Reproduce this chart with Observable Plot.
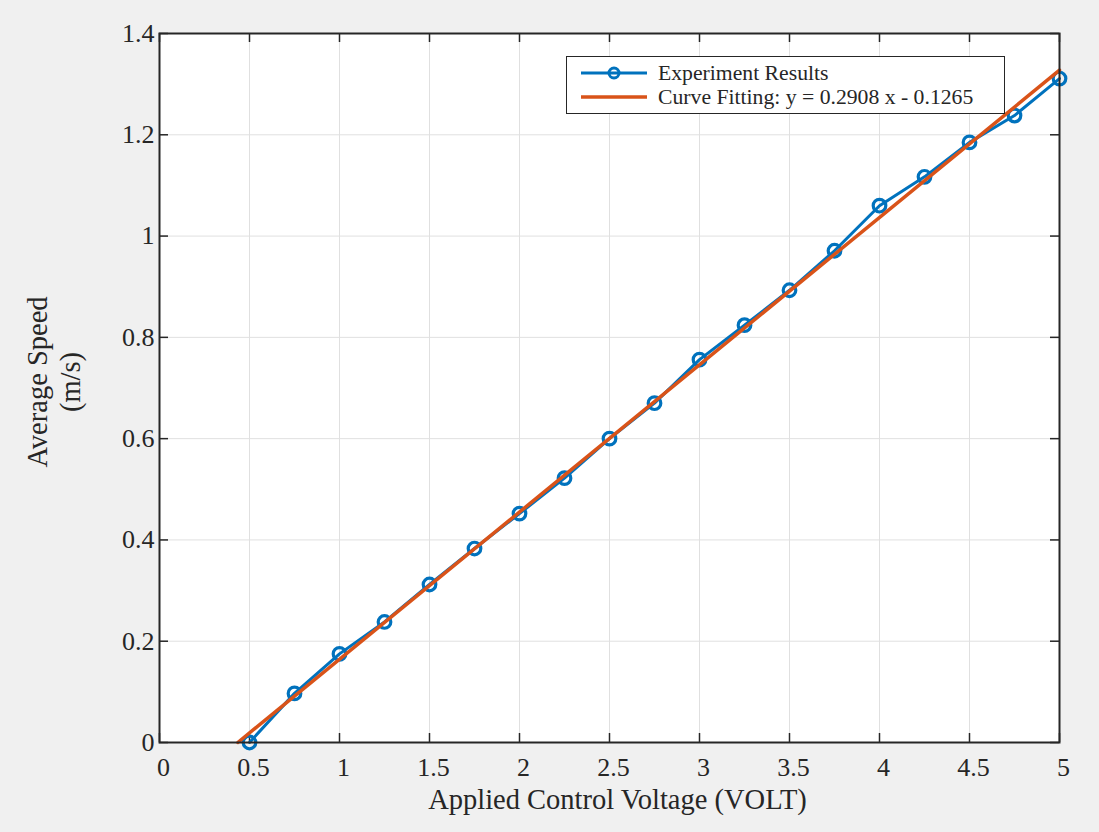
<!DOCTYPE html>
<html>
<head>
<meta charset="utf-8">
<script src="https://cdn.jsdelivr.net/npm/d3@7"></script>
<script src="https://cdn.jsdelivr.net/npm/@observablehq/plot@0.6"></script>
<style>
  html, body { margin: 0; padding: 0; background: #f0f0f0; }
  #wrap { position: relative; width: 1099px; height: 832px; }
  #legend { position: absolute; left: 566px; top: 56px; }
</style>
</head>
<body>
<div id="wrap"></div>
<script>
// ---- data ----
const voltage = [0.5, 0.75, 1.0, 1.25, 1.5, 1.75, 2.0, 2.25, 2.5, 2.75, 3.0, 3.25, 3.5, 3.75, 4.0, 4.25, 4.5, 4.75, 5.0];
const speed   = [0.000, 0.097, 0.175, 0.238, 0.312, 0.383, 0.452, 0.522, 0.600, 0.670, 0.756, 0.824, 0.893, 0.971, 1.060, 1.117, 1.185, 1.238, 1.311];
const fitSlope = 0.2908;
const fitIntercept = -0.1265;
const fitRangeX = [0.435, 5.0];
const xTicks = [0, 0.5, 1, 1.5, 2, 2.5, 3, 3.5, 4, 4.5, 5];
const xTickLabels = ["0", "0.5", "1", "1.5", "2", "2.5", "3", "3.5", "4", "4.5", "5"];
const yTicks = [0, 0.2, 0.4, 0.6, 0.8, 1.0, 1.2, 1.4];
const yTickLabels = ["0", "0.2", "0.4", "0.6", "0.8", "1", "1.2", "1.4"];
const seriesNames = ["Experiment Results", "Curve Fitting: y = 0.2908 x - 0.1265"];
const xLabel = "Applied Control Voltage (VOLT)";
const yLabel = "Average Speed\n(m/s)";

const experiment = voltage.map((v, i) => ({x: v, y: speed[i]}));
const fit = fitRangeX.map(x => ({x, y: fitSlope * x + fitIntercept}));

const blue = "#0072BD", orange = "#D95319", ink = "#262626";
const font = "'Liberation Serif', 'Times New Roman', serif";
const W = 1099, H = 832, mL = 159, mR = 40, mT = 33, mB = 90;
const fw = W - mL - mR, fh = H - mT - mB, tk = 9;

const chart = Plot.plot({
  width: W, height: H,
  marginLeft: mL, marginRight: mR, marginTop: mT, marginBottom: mB,
  style: {background: "transparent", fontFamily: font, color: ink},
  x: {domain: [0, 5]},
  y: {domain: [0, 1.4]},
  marks: [
    Plot.frame({fill: "white"}),
    Plot.ruleX(xTicks.slice(1, -1), {stroke: "#e0e0e0", strokeWidth: 1}),
    Plot.ruleY(yTicks.slice(1, -1), {stroke: "#e0e0e0", strokeWidth: 1}),
    // inward ticks on all four sides
    Plot.tickX(xTicks, {x: d => d, stroke: ink, strokeWidth: 1.5, insetTop: fh - tk}),
    Plot.tickX(xTicks, {x: d => d, stroke: ink, strokeWidth: 1.5, insetBottom: fh - tk}),
    Plot.tickY(yTicks, {y: d => d, stroke: ink, strokeWidth: 1.5, insetRight: fw - tk}),
    Plot.tickY(yTicks, {y: d => d, stroke: ink, strokeWidth: 1.5, insetLeft: fw - tk}),
    Plot.axisX(xTicks, {anchor: "bottom", tickSize: 0, tickPadding: 15, fontSize: 26, dx: 4,
      tickFormat: (d, i) => xTickLabels[i], label: null, fill: ink}),
    Plot.axisY(yTicks, {anchor: "left", tickSize: 0, tickPadding: 5, fontSize: 26,
      tickFormat: (d, i) => yTickLabels[i], label: null, fill: ink}),
    // data
    Plot.line(experiment, {x: "x", y: "y", stroke: blue, strokeWidth: 3}),
    Plot.dot(experiment, {x: "x", y: "y", r: 6.3, stroke: blue, strokeWidth: 3.2, fill: "none"}),
    Plot.line(fit, {x: "x", y: "y", stroke: orange, strokeWidth: 3.5}),
    Plot.frame({stroke: ink, strokeWidth: 2}),
    // axis titles
    Plot.text([xLabel], {frameAnchor: "bottom", dy: 46, dx: 8, lineAnchor: "top", textAnchor: "middle",
      fontSize: 28.5, fill: ink, text: d => d}),
    Plot.text([yLabel], {frameAnchor: "left", dx: -107, dy: -6, rotate: -90, textAnchor: "middle",
      lineAnchor: "middle", lineHeight: 1.17, fontSize: 28.5, fill: ink, text: d => d})
  ]
});

const wrap = document.getElementById("wrap");
wrap.appendChild(chart);

// legend
const lw = 439, lh = 58;
const leg = d3.create("svg").attr("id", "legend").attr("width", lw).attr("height", lh)
  .style("font-family", font);
leg.append("rect").attr("x", 0.5).attr("y", 0.5).attr("width", lw - 1).attr("height", lh - 1)
  .attr("fill", "white").attr("stroke", ink).attr("stroke-width", 1);
const rows = [{y: 17, color: blue, marker: true, width: 3}, {y: 41, color: orange, marker: false, width: 3.5}];
rows.forEach((r, i) => {
  leg.append("line").attr("x1", 15).attr("x2", 81).attr("y1", r.y).attr("y2", r.y)
    .attr("stroke", r.color).attr("stroke-width", r.width);
  if (r.marker) leg.append("circle").attr("cx", 48).attr("cy", r.y).attr("r", 5)
    .attr("fill", "none").attr("stroke", r.color).attr("stroke-width", 3);
  leg.append("text").attr("x", 92).attr("y", r.y + 7).attr("font-size", 21.7)
    .attr("fill", ink).text(seriesNames[i]);
});
wrap.appendChild(leg.node());
</script>
</body>
</html>
